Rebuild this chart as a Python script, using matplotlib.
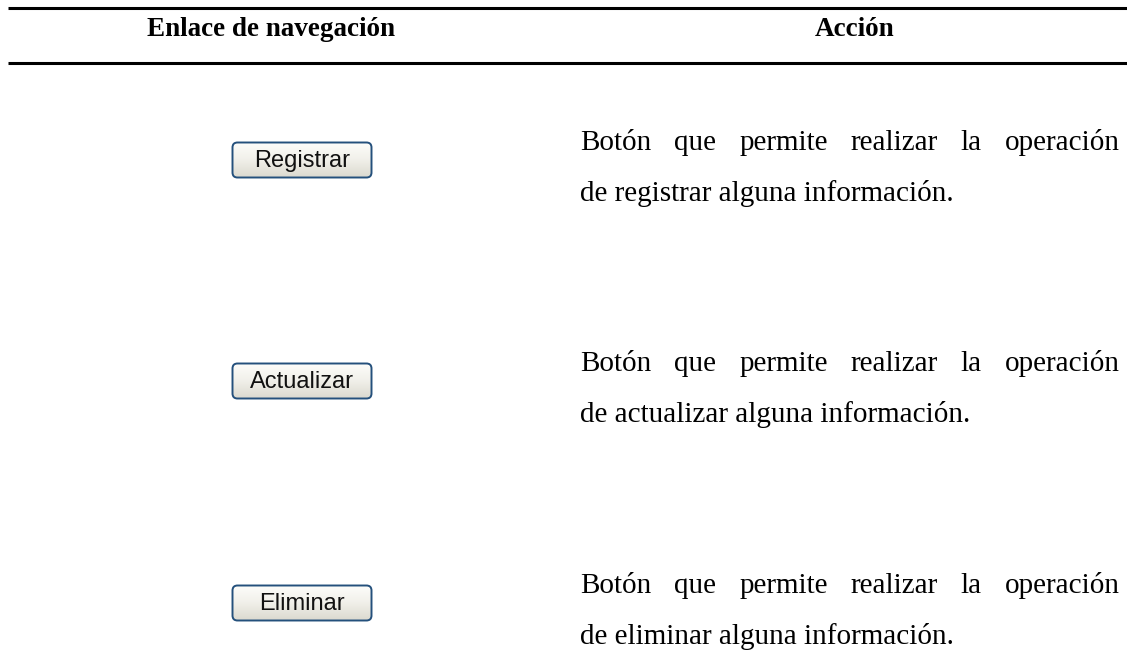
import matplotlib
matplotlib.use("Agg")
import matplotlib.pyplot as plt
import numpy as np
from matplotlib.patches import FancyBboxPatch

# ---- data ----
headers = ["Enlace de navegación", "Acción"]
buttons = ["Registrar", "Actualizar", "Eliminar"]
line1 = ["Botón que permite realizar la operación",
         "Botón que permite realizar la operación",
         "Botón que permite realizar la operación"]
line2 = ["de registrar alguna información.",
         "de actualizar alguna información.",
         "de eliminar alguna información."]

W, H = 1127, 650
fig = plt.figure(figsize=(W / 100, H / 100), dpi=100)
ax = fig.add_axes([0, 0, 1, 1])
ax.set_xlim(0, W)
ax.set_ylim(H, 0)
ax.axis("off")

serif = ["Liberation Serif", "DejaVu Serif"]
sans = ["Liberation Sans", "DejaVu Sans"]
fs = 21

# rules
ax.plot([8, W], [7.5, 7.5], color="black", lw=2.2, solid_capstyle="butt")
ax.plot([8, W], [63, 63], color="black", lw=2.2, solid_capstyle="butt")

# headers
ax.text(271, 36, headers[0], fontfamily=serif, fontweight="bold", fontsize=19.5,
        ha="center", va="baseline")
ax.text(855, 36, headers[1], fontfamily=serif, fontweight="bold", fontsize=19.5,
        ha="center", va="baseline")

fig.canvas.draw()
renderer = fig.canvas.get_renderer()


def text_width(s):
    t = ax.text(0, 0, s, fontfamily=serif, fontsize=fs)
    bb = t.get_window_extent(renderer)
    t.remove()
    return bb.width


def justified(s, x0, x1, y):
    words = s.split(" ")
    widths = [text_width(w) for w in words]
    gap = (x1 - x0 - sum(widths)) / (len(words) - 1)
    x = x0
    for w, wd in zip(words, widths):
        ax.text(x, y, w, fontfamily=serif, fontsize=fs, ha="left",
                va="baseline")
        x += wd + gap


row_baselines = [150, 371, 593]
line_gap = 51
x_text0, x_text1 = 580, 1120
btn_cx, btn_w, btn_h = 302, 139, 35

grad = np.linspace(0, 1, 64).reshape(-1, 1)
cmap = matplotlib.colors.LinearSegmentedColormap.from_list(
    "btn", ["#fdfdfb", "#f1f0ea", "#dcdad0"])
for yb, b, l1, l2 in zip(row_baselines, buttons, line1, line2):
    yc = yb + 10
    x0, y0 = btn_cx - btn_w / 2, yc - btn_h / 2
    patch = FancyBboxPatch((x0, y0), btn_w, btn_h,
                           boxstyle="round,pad=0,rounding_size=5",
                           facecolor="none", edgecolor="#24507c", lw=1.4,
                           zorder=3)
    ax.add_patch(patch)
    img = ax.imshow(grad, extent=(x0, x0 + btn_w, y0 + btn_h, y0),
                    cmap=cmap, aspect="auto", zorder=2)
    img.set_clip_path(patch)
    ax.text(btn_cx, yc + 1, b, fontfamily=sans, fontsize=17,
            ha="center", va="center", color="#111111", zorder=4)
    justified(l1, x_text0, x_text1, yb)
    ax.text(x_text0, yb + line_gap, l2, fontfamily=serif, fontsize=fs,
            ha="left", va="baseline")

ax.set_xlim(0, W)
ax.set_ylim(H, 0)
fig.savefig("out.png", dpi=100)
